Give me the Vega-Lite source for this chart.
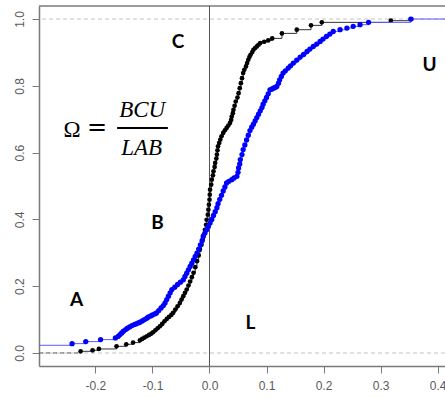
{
  "$schema": "https://vega.github.io/schema/vega-lite/v6.json",
  "width": 406,
  "height": 360,
  "autosize": "none",
  "padding": {"left": 39, "top": 6, "right": 0, "bottom": 32},
  "background": "white",
  "config": {
    "view": {"stroke": null},
    "axis": {"grid": false, "title": null, "domainColor": "#7a7a7a", "domainWidth": 1.5, "tickColor": "#7a7a7a", "tickSize": 7, "labelColor": "#5a5a5a", "labelFont": "Liberation Sans", "labelFontSize": 12}
  },
  "datasets": {
    "black": [
      {"x": -0.226, "y": 0.005, "p": 1}, {"x": -0.205, "y": 0.008, "p": 1}, {"x": -0.194, "y": 0.012, "p": 1},
      {"x": -0.163, "y": 0.020, "p": 1}, {"x": -0.146, "y": 0.026, "p": 1}, {"x": -0.134, "y": 0.031, "p": 1},
      {"x": -0.122, "y": 0.038, "p": 1}, {"x": -0.118, "y": 0.042, "p": 1}, {"x": -0.114, "y": 0.046, "p": 1},
      {"x": -0.110, "y": 0.050, "p": 1}, {"x": -0.106, "y": 0.054, "p": 1}, {"x": -0.102, "y": 0.058, "p": 1},
      {"x": -0.099, "y": 0.062, "p": 1}, {"x": -0.095, "y": 0.068, "p": 1}, {"x": -0.091, "y": 0.074, "p": 1},
      {"x": -0.087, "y": 0.080, "p": 1}, {"x": -0.083, "y": 0.087, "p": 1}, {"x": -0.079, "y": 0.095, "p": 1},
      {"x": -0.075, "y": 0.102, "p": 1}, {"x": -0.071, "y": 0.108, "p": 1}, {"x": -0.067, "y": 0.114, "p": 1},
      {"x": -0.064, "y": 0.120, "p": 1}, {"x": -0.060, "y": 0.130, "p": 1}, {"x": -0.056, "y": 0.140, "p": 1},
      {"x": -0.052, "y": 0.150, "p": 1}, {"x": -0.049, "y": 0.160, "p": 1}, {"x": -0.046, "y": 0.170, "p": 1},
      {"x": -0.043, "y": 0.180, "p": 1}, {"x": -0.040, "y": 0.190, "p": 1}, {"x": -0.037, "y": 0.202, "p": 1},
      {"x": -0.034, "y": 0.214, "p": 1}, {"x": -0.031, "y": 0.227, "p": 1}, {"x": -0.028, "y": 0.240, "p": 1},
      {"x": -0.025, "y": 0.257, "p": 1}, {"x": -0.022, "y": 0.275, "p": 1}, {"x": -0.019, "y": 0.292, "p": 1},
      {"x": -0.017, "y": 0.309, "p": 1}, {"x": -0.014, "y": 0.324, "p": 1}, {"x": -0.012, "y": 0.339, "p": 1},
      {"x": -0.010, "y": 0.354, "p": 1}, {"x": -0.008, "y": 0.369, "p": 1}, {"x": -0.006, "y": 0.384, "p": 1},
      {"x": -0.005, "y": 0.399, "p": 1}, {"x": -0.003, "y": 0.414, "p": 1}, {"x": -0.002, "y": 0.429, "p": 1},
      {"x": -0.001, "y": 0.444, "p": 1}, {"x": 0.000, "y": 0.459, "p": 1}, {"x": 0.0005, "y": 0.474, "p": 1},
      {"x": 0.001, "y": 0.489, "p": 1}, {"x": 0.003, "y": 0.504, "p": 1}, {"x": 0.004, "y": 0.519, "p": 1},
      {"x": 0.006, "y": 0.532, "p": 1}, {"x": 0.007, "y": 0.544, "p": 1}, {"x": 0.009, "y": 0.557, "p": 1},
      {"x": 0.010, "y": 0.569, "p": 1}, {"x": 0.012, "y": 0.582, "p": 1}, {"x": 0.013, "y": 0.594, "p": 1},
      {"x": 0.014, "y": 0.607, "p": 1}, {"x": 0.015, "y": 0.619, "p": 1}, {"x": 0.017, "y": 0.629, "p": 1},
      {"x": 0.019, "y": 0.639, "p": 1}, {"x": 0.021, "y": 0.649, "p": 1}, {"x": 0.024, "y": 0.659, "p": 1},
      {"x": 0.027, "y": 0.667, "p": 1}, {"x": 0.030, "y": 0.674, "p": 1}, {"x": 0.033, "y": 0.681, "p": 1},
      {"x": 0.036, "y": 0.689, "p": 1}, {"x": 0.038, "y": 0.698, "p": 1}, {"x": 0.039, "y": 0.708, "p": 1},
      {"x": 0.041, "y": 0.718, "p": 1}, {"x": 0.042, "y": 0.728, "p": 1}, {"x": 0.044, "y": 0.740, "p": 1},
      {"x": 0.046, "y": 0.753, "p": 1}, {"x": 0.049, "y": 0.765, "p": 1}, {"x": 0.051, "y": 0.778, "p": 1},
      {"x": 0.053, "y": 0.793, "p": 1}, {"x": 0.055, "y": 0.808, "p": 1}, {"x": 0.057, "y": 0.823, "p": 1},
      {"x": 0.059, "y": 0.838, "p": 1}, {"x": 0.061, "y": 0.848, "p": 1}, {"x": 0.064, "y": 0.858, "p": 1},
      {"x": 0.066, "y": 0.868, "p": 1}, {"x": 0.068, "y": 0.878, "p": 1}, {"x": 0.070, "y": 0.886, "p": 1},
      {"x": 0.072, "y": 0.893, "p": 1}, {"x": 0.075, "y": 0.901, "p": 1}, {"x": 0.077, "y": 0.908, "p": 1},
      {"x": 0.080, "y": 0.913, "p": 1}, {"x": 0.083, "y": 0.918, "p": 1}, {"x": 0.086, "y": 0.923, "p": 1},
      {"x": 0.089, "y": 0.928, "p": 1}, {"x": 0.096, "y": 0.932, "p": 1}, {"x": 0.103, "y": 0.936, "p": 1},
      {"x": 0.110, "y": 0.942, "p": 1}, {"x": 0.127, "y": 0.957, "p": 1}, {"x": 0.153, "y": 0.968, "p": 1},
      {"x": 0.178, "y": 0.981, "p": 1}, {"x": 0.197, "y": 0.990, "p": 1}, {"x": 0.318, "y": 0.995, "p": 1},
      {"x": 0.354, "y": 1.000, "p": 1}
    ],
    "blue": [
      {"x": -0.299, "y": 0.023, "p": 0},
      {"x": -0.241, "y": 0.028, "p": 1}, {"x": -0.217, "y": 0.034, "p": 1}, {"x": -0.191, "y": 0.040, "p": 1},
      {"x": -0.165, "y": 0.045, "p": 1}, {"x": -0.160, "y": 0.050, "p": 1}, {"x": -0.157, "y": 0.055, "p": 1},
      {"x": -0.154, "y": 0.060, "p": 1}, {"x": -0.151, "y": 0.065, "p": 1}, {"x": -0.147, "y": 0.070, "p": 1},
      {"x": -0.144, "y": 0.074, "p": 1}, {"x": -0.140, "y": 0.078, "p": 1}, {"x": -0.136, "y": 0.082, "p": 1},
      {"x": -0.132, "y": 0.085, "p": 1}, {"x": -0.129, "y": 0.087, "p": 1}, {"x": -0.125, "y": 0.090, "p": 1},
      {"x": -0.122, "y": 0.092, "p": 1}, {"x": -0.118, "y": 0.096, "p": 1}, {"x": -0.114, "y": 0.100, "p": 1},
      {"x": -0.110, "y": 0.104, "p": 1}, {"x": -0.107, "y": 0.108, "p": 1}, {"x": -0.103, "y": 0.111, "p": 1},
      {"x": -0.100, "y": 0.114, "p": 1}, {"x": -0.096, "y": 0.117, "p": 1}, {"x": -0.093, "y": 0.120, "p": 1},
      {"x": -0.089, "y": 0.127, "p": 1}, {"x": -0.085, "y": 0.135, "p": 1}, {"x": -0.081, "y": 0.142, "p": 1},
      {"x": -0.078, "y": 0.150, "p": 1}, {"x": -0.075, "y": 0.160, "p": 1}, {"x": -0.072, "y": 0.170, "p": 1},
      {"x": -0.069, "y": 0.180, "p": 1}, {"x": -0.066, "y": 0.190, "p": 1}, {"x": -0.061, "y": 0.197, "p": 1},
      {"x": -0.056, "y": 0.205, "p": 1}, {"x": -0.051, "y": 0.212, "p": 1}, {"x": -0.046, "y": 0.219, "p": 1},
      {"x": -0.043, "y": 0.229, "p": 1}, {"x": -0.040, "y": 0.239, "p": 1}, {"x": -0.037, "y": 0.249, "p": 1},
      {"x": -0.034, "y": 0.259, "p": 1}, {"x": -0.031, "y": 0.269, "p": 1}, {"x": -0.028, "y": 0.279, "p": 1},
      {"x": -0.025, "y": 0.289, "p": 1}, {"x": -0.022, "y": 0.299, "p": 1}, {"x": -0.019, "y": 0.311, "p": 1},
      {"x": -0.016, "y": 0.324, "p": 1}, {"x": -0.013, "y": 0.336, "p": 1}, {"x": -0.011, "y": 0.349, "p": 1},
      {"x": -0.008, "y": 0.359, "p": 1}, {"x": -0.005, "y": 0.369, "p": 1}, {"x": -0.002, "y": 0.379, "p": 1},
      {"x": 0.001, "y": 0.389, "p": 1}, {"x": 0.004, "y": 0.400, "p": 1}, {"x": 0.007, "y": 0.412, "p": 1},
      {"x": 0.010, "y": 0.423, "p": 1}, {"x": 0.013, "y": 0.435, "p": 1}, {"x": 0.015, "y": 0.447, "p": 1},
      {"x": 0.018, "y": 0.460, "p": 1}, {"x": 0.021, "y": 0.472, "p": 1}, {"x": 0.024, "y": 0.485, "p": 1},
      {"x": 0.027, "y": 0.497, "p": 1}, {"x": 0.030, "y": 0.509, "p": 1}, {"x": 0.034, "y": 0.514, "p": 1},
      {"x": 0.039, "y": 0.519, "p": 1}, {"x": 0.043, "y": 0.524, "p": 1}, {"x": 0.048, "y": 0.529, "p": 1},
      {"x": 0.050, "y": 0.541, "p": 1}, {"x": 0.051, "y": 0.554, "p": 1}, {"x": 0.053, "y": 0.566, "p": 1},
      {"x": 0.054, "y": 0.579, "p": 1}, {"x": 0.057, "y": 0.594, "p": 1}, {"x": 0.059, "y": 0.609, "p": 1},
      {"x": 0.062, "y": 0.623, "p": 1}, {"x": 0.065, "y": 0.638, "p": 1}, {"x": 0.068, "y": 0.652, "p": 1},
      {"x": 0.071, "y": 0.666, "p": 1}, {"x": 0.074, "y": 0.676, "p": 1}, {"x": 0.077, "y": 0.685, "p": 1},
      {"x": 0.080, "y": 0.695, "p": 1}, {"x": 0.083, "y": 0.705, "p": 1}, {"x": 0.086, "y": 0.715, "p": 1},
      {"x": 0.089, "y": 0.725, "p": 1}, {"x": 0.092, "y": 0.735, "p": 1}, {"x": 0.094, "y": 0.745, "p": 1},
      {"x": 0.097, "y": 0.755, "p": 1}, {"x": 0.100, "y": 0.765, "p": 1}, {"x": 0.103, "y": 0.776, "p": 1},
      {"x": 0.106, "y": 0.788, "p": 1}, {"x": 0.109, "y": 0.790, "p": 1}, {"x": 0.112, "y": 0.793, "p": 1},
      {"x": 0.115, "y": 0.795, "p": 1}, {"x": 0.118, "y": 0.798, "p": 1}, {"x": 0.121, "y": 0.808, "p": 1},
      {"x": 0.123, "y": 0.818, "p": 1}, {"x": 0.126, "y": 0.828, "p": 1}, {"x": 0.129, "y": 0.838, "p": 1},
      {"x": 0.133, "y": 0.845, "p": 1}, {"x": 0.138, "y": 0.853, "p": 1}, {"x": 0.142, "y": 0.860, "p": 1},
      {"x": 0.147, "y": 0.868, "p": 1}, {"x": 0.153, "y": 0.877, "p": 1}, {"x": 0.159, "y": 0.886, "p": 1},
      {"x": 0.165, "y": 0.894, "p": 1}, {"x": 0.171, "y": 0.903, "p": 1}, {"x": 0.176, "y": 0.910, "p": 1},
      {"x": 0.182, "y": 0.918, "p": 1}, {"x": 0.188, "y": 0.925, "p": 1}, {"x": 0.194, "y": 0.933, "p": 1},
      {"x": 0.199, "y": 0.940, "p": 1}, {"x": 0.205, "y": 0.948, "p": 1}, {"x": 0.211, "y": 0.955, "p": 1},
      {"x": 0.217, "y": 0.963, "p": 1}, {"x": 0.229, "y": 0.968, "p": 1}, {"x": 0.241, "y": 0.973, "p": 1},
      {"x": 0.252, "y": 0.978, "p": 1}, {"x": 0.264, "y": 0.983, "p": 1}, {"x": 0.279, "y": 0.990, "p": 1},
      {"x": 0.353, "y": 1.000, "p": 1},
      {"x": 0.413, "y": 1.000, "p": 0}
    ],
    "hlines": [
      {"y": 0},
      {"y": 1}
    ],
    "frame": [{"y": 1.039}],
    "vline": [{"x": 0}],
    "tail": [{"x": -0.299, "x2": -0.226, "y": 0}],
    "labels": [
      {"x": -0.055, "y": 0.932, "t": "C"},
      {"x": 0.386, "y": 0.863, "t": "U"},
      {"x": -0.091, "y": 0.389, "t": "B"},
      {"x": -0.233, "y": 0.160, "t": "A"},
      {"x": 0.072, "y": 0.090, "t": "L"}
    ],
    "frac": [
      {"x": -0.118, "y": 0.707, "t": "BCU"},
      {"x": -0.119, "y": 0.594, "t": "LAB"}
    ],
    "omega": [{"x": -0.241, "y": 0.648, "t": "Ω"}],
    "eq": [{"x": -0.197, "y": 0.654, "t": "="}],
    "bar": [{"x": -0.162, "x2": -0.073, "y": 0.674}]
  },
  "layer": [
    {
      "data": {"name": "hlines"},
      "mark": {"type": "rule", "color": "#c4c4c4", "strokeDash": [4, 3], "strokeWidth": 1},
      "encoding": {
        "y": {"field": "y", "type": "quantitative", "scale": {"domain": [-0.039, 1.039], "nice": false, "zero": false},
              "axis": {"values": [0, 0.2, 0.4, 0.6, 0.8, 1], "format": ".1f", "labelAngle": 270, "labelAlign": "center", "labelBaseline": "bottom", "labelPadding": 6}}
      }
    },
    {
      "data": {"name": "frame"},
      "mark": {"type": "rule", "color": "#7a7a7a", "strokeWidth": 1.5},
      "encoding": {"y": {"field": "y", "type": "quantitative"}}
    },
    {
      "data": {"name": "vline"},
      "mark": {"type": "rule", "color": "#555555", "strokeWidth": 1},
      "encoding": {
        "x": {"field": "x", "type": "quantitative", "scale": {"domain": [-0.299, 0.413], "nice": false, "zero": false},
              "axis": {"values": [-0.2, -0.1, 0, 0.1, 0.2, 0.3, 0.4], "labelExpr": "(datum.value < 0 ? '-' : '') + format(abs(datum.value), '.1f')", "labelPadding": 7}}
      }
    },
    {
      "data": {"name": "tail"},
      "mark": {"type": "rule", "color": "#555555", "strokeDash": [4, 3], "strokeWidth": 1},
      "encoding": {
        "x": {"field": "x", "type": "quantitative"},
        "x2": {"field": "x2"},
        "y": {"field": "y", "type": "quantitative"}
      }
    },
    {
      "data": {"name": "black"},
      "mark": {"type": "line", "color": "#333333", "strokeWidth": 1, "interpolate": "step-after"},
      "encoding": {
        "x": {"field": "x", "type": "quantitative"},
        "y": {"field": "y", "type": "quantitative"},
        "order": {"field": "x", "type": "quantitative"}
      }
    },
    {
      "data": {"name": "black"},
      "transform": [{"filter": "datum.p == 1"}],
      "mark": {"type": "circle", "color": "#000000", "opacity": 1, "size": 22},
      "encoding": {
        "x": {"field": "x", "type": "quantitative"},
        "y": {"field": "y", "type": "quantitative"}
      }
    },
    {
      "data": {"name": "blue"},
      "mark": {"type": "line", "color": "#5a5aff", "strokeWidth": 1, "interpolate": "step-after"},
      "encoding": {
        "x": {"field": "x", "type": "quantitative"},
        "y": {"field": "y", "type": "quantitative"},
        "order": {"field": "x", "type": "quantitative"}
      }
    },
    {
      "data": {"name": "blue"},
      "transform": [{"filter": "datum.p == 1"}],
      "mark": {"type": "circle", "color": "#0000ff", "opacity": 1, "size": 28},
      "encoding": {
        "x": {"field": "x", "type": "quantitative"},
        "y": {"field": "y", "type": "quantitative"}
      }
    },
    {
      "data": {"name": "labels"},
      "mark": {"type": "text", "font": "Lato", "fontWeight": "bold", "fontSize": 19, "color": "#000000", "align": "center", "baseline": "middle"},
      "encoding": {
        "x": {"field": "x", "type": "quantitative"},
        "y": {"field": "y", "type": "quantitative"},
        "text": {"field": "t"}
      }
    },
    {
      "data": {"name": "frac"},
      "mark": {"type": "text", "font": "Liberation Serif", "fontStyle": "italic", "fontSize": 23, "color": "#000000", "align": "center", "baseline": "alphabetic"},
      "encoding": {
        "x": {"field": "x", "type": "quantitative"},
        "y": {"field": "y", "type": "quantitative"},
        "text": {"field": "t"}
      }
    },
    {
      "data": {"name": "omega"},
      "mark": {"type": "text", "font": "Liberation Serif", "fontSize": 23, "color": "#000000", "align": "center", "baseline": "alphabetic"},
      "encoding": {
        "x": {"field": "x", "type": "quantitative"},
        "y": {"field": "y", "type": "quantitative"},
        "text": {"field": "t"}
      }
    },
    {
      "data": {"name": "eq"},
      "mark": {"type": "text", "font": "DejaVu Sans", "fontSize": 24, "color": "#000000", "align": "center", "baseline": "alphabetic"},
      "encoding": {
        "x": {"field": "x", "type": "quantitative"},
        "y": {"field": "y", "type": "quantitative"},
        "text": {"field": "t"}
      }
    },
    {
      "data": {"name": "bar"},
      "mark": {"type": "rule", "color": "#000000", "strokeWidth": 2},
      "encoding": {
        "x": {"field": "x", "type": "quantitative"},
        "x2": {"field": "x2"},
        "y": {"field": "y", "type": "quantitative"}
      }
    }
  ]
}
